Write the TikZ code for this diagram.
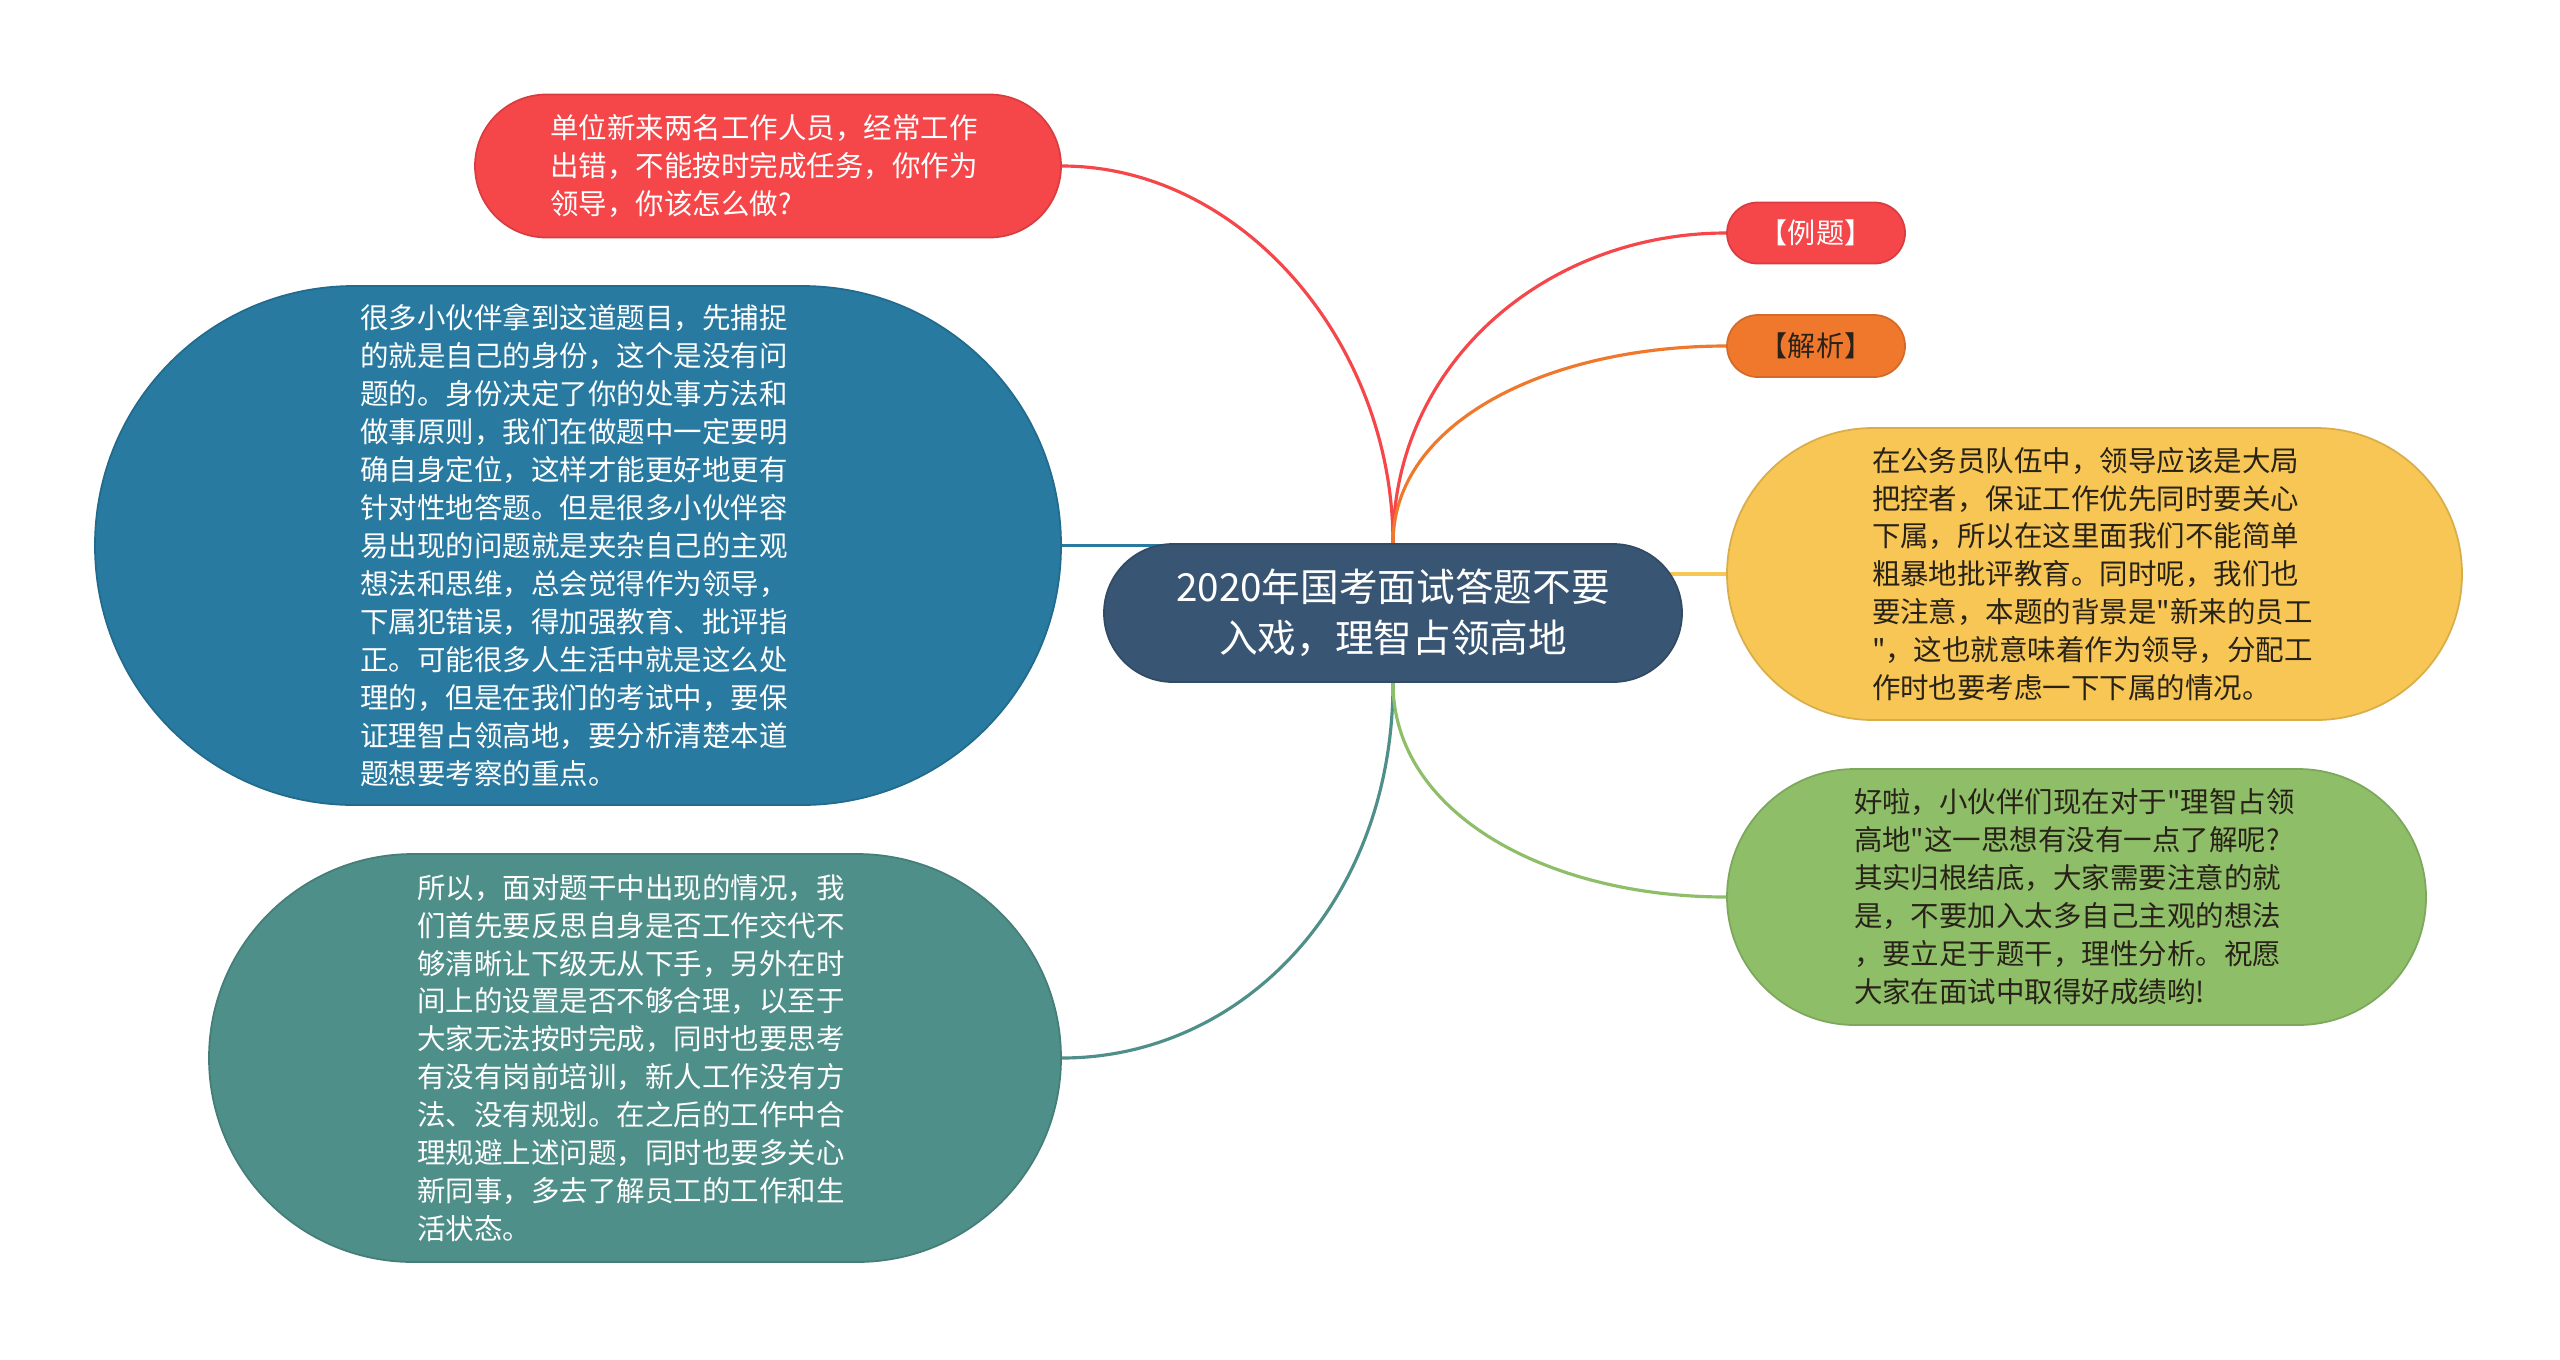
\documentclass[tikz,border=0pt]{standalone}
\usepackage{fontspec}
\setmainfont{Noto Sans CJK SC}[Ligatures=TeXOff]

\definecolor{rootblue}{RGB}{56,85,115}
\definecolor{qred}{RGB}{245,70,74}
\definecolor{ablue}{RGB}{40,122,160}
\definecolor{ateal}{RGB}{78,143,138}
\definecolor{tagorange}{RGB}{240,120,45}
\definecolor{ayellow}{RGB}{247,198,84}
\definecolor{agreen}{RGB}{142,190,104}
\definecolor{darktxt}{RGB}{40,34,24}

\pgfdeclarelayer{background}
\pgfsetlayers{background,main}

\tikzset{
  bubble/.style={draw=#1!88!black, fill=#1, line width=0.5pt, inner sep=0pt},
  body/.style={font=\fontsize{8.1}{10.8}\selectfont, align=left},
  link/.style={draw=#1, line width=0.9pt}
}

\begin{document}
\begin{tikzpicture}
		\useasboundingbox (0,0) rectangle (25.6,-13.59);

		\node[bubble=rootblue, text=white, minimum width=5.78cm, minimum height=1.38cm, rounded corners=0.69cm, font=\fontsize{11}{14.5}\selectfont, align=center] (root) at (13.93,-6.13) {2020年国考面试答题不要\\入戏，理智占领高地};

		\node[bubble=qred, text=white, body, minimum width=5.86cm, minimum height=1.43cm, rounded corners=0.715cm, text width=4.35cm] (ques) at (7.68,-1.66) {单位新来两名工作人员，经常工作\\出错，不能按时完成任务，你作为\\领导，你该怎么做?};
		\node[bubble=ablue, text=white, body, minimum width=9.66cm, minimum height=5.19cm, rounded corners=2.59cm, text width=4.35cm] (idea) at (5.78,-5.455) {很多小伙伴拿到这道题目，先捕捉\\的就是自己的身份，这个是没有问\\题的。身份决定了你的处事方法和\\做事原则，我们在做题中一定要明\\确自身定位，这样才能更好地更有\\针对性地答题。但是很多小伙伴容\\易出现的问题就是夹杂自己的主观\\想法和思维，总会觉得作为领导，\\下属犯错误，得加强教育、批评指\\正。可能很多人生活中就是这么处\\理的，但是在我们的考试中，要保\\证理智占领高地，要分析清楚本道\\题想要考察的重点。};
		\node[bubble=ateal, text=white, body, minimum width=8.52cm, minimum height=4.08cm, rounded corners=2.04cm, text width=4.35cm] (reflect) at (6.35,-10.58) {所以，面对题干中出现的情况，我\\们首先要反思自身是否工作交代不\\够清晰让下级无从下手，另外在时\\间上的设置是否不够合理，以至于\\大家无法按时完成，同时也要思考\\有没有岗前培训，新人工作没有方\\法、没有规划。在之后的工作中合\\理规避上述问题，同时也要多关心\\新同事，多去了解员工的工作和生\\活状态。};

		\node[bubble=qred, text=white, font=\fontsize{8}{10}\selectfont, minimum width=1.78cm, minimum height=0.61cm, rounded corners=0.305cm] (example) at (18.16,-2.33) {【例题】};
		\node[bubble=tagorange, text=darktxt, font=\fontsize{8}{10}\selectfont, minimum width=1.78cm, minimum height=0.62cm, rounded corners=0.31cm] (analysis) at (18.16,-3.46) {【解析】};
		\node[bubble=ayellow, text=darktxt, body, minimum width=7.35cm, minimum height=2.92cm, rounded corners=1.46cm, text width=4.45cm] (leader) at (20.945,-5.74) {在公务员队伍中，领导应该是大局\\把控者，保证工作优先同时要关心\\下属，所以在这里面我们不能简单\\粗暴地批评教育。同时呢，我们也\\要注意，本题的背景是"新来的员工\\"，这也就意味着作为领导，分配工\\作时也要考虑一下下属的情况。};
		\node[bubble=agreen, text=darktxt, body, minimum width=6.99cm, minimum height=2.56cm, rounded corners=1.28cm, text width=4.45cm] (wish) at (20.765,-8.97) {好啦，小伙伴们现在对于"理智占领\\高地"这一思想有没有一点了解呢?\\其实归根结底，大家需要注意的就\\是，不要加入太多自己主观的想法\\，要立足于题干，理性分析。祝愿\\大家在面试中取得好成绩哟!};

		\begin{pgfonlayer}{background}
		\fill[white] (0,0) rectangle (25.6,-13.59);
		\draw[link=qred] (root.north) .. controls +(0,2.0) and +(1.8,0) .. (ques.east);
		\draw[link=ablue] (idea.east) -- (idea.east -| root.center);
		\draw[link=ateal] (root.south) .. controls +(0,-2.2) and +(1.8,0) .. (reflect.east);
		\draw[link=qred] (root.north) .. controls +(0,1.8) and +(-1.8,0) .. (example.west);
		\draw[link=tagorange] (root.north) .. controls +(0,1.2) and +(-1.8,0) .. (analysis.west);
		\draw[link=ayellow] (leader.west) -- (leader.west -| root.center);
		\draw[link=agreen] (root.south) .. controls +(0,-1.3) and +(-1.8,0) .. (wish.west);
		\end{pgfonlayer}
\end{tikzpicture}
\end{document}
